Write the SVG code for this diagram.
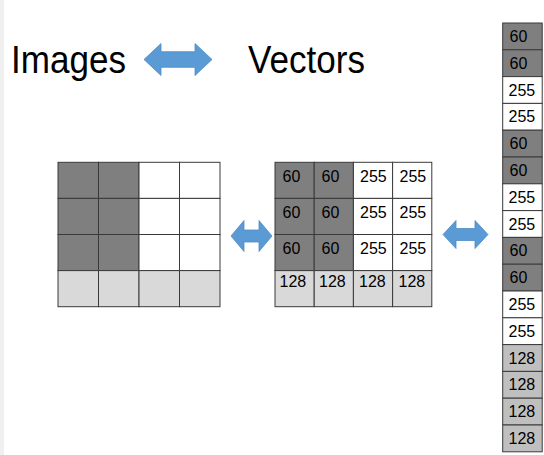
<svg xmlns="http://www.w3.org/2000/svg" width="544" height="455" viewBox="0 0 544 455">
<style>
.title{font-family:"Liberation Sans",Arial,sans-serif;font-size:38px;fill:#000}
.num{font-family:"Liberation Sans",Arial,sans-serif;font-size:16px;fill:#000}
.dk{fill:#7f7f7f;stroke:#3a3a3a;stroke-width:1}
.wh{fill:#ffffff;stroke:#3a3a3a;stroke-width:1}
.lt{fill:#d9d9d9;stroke:#3a3a3a;stroke-width:1}
.lt2{fill:#bfbfbf;stroke:#3a3a3a;stroke-width:1}
.arr{fill:#5b9bd5;stroke:#4f8cc4;stroke-width:0.8}
</style>
<rect x="0" y="0" width="544" height="455" fill="#ffffff"/>
<rect x="0" y="0" width="4" height="455" fill="#f0f0f0"/>
<g id="title-images"><text class="title" x="11" y="72.5" textLength="115" lengthAdjust="spacingAndGlyphs">Images</text></g>
<g id="title-vectors"><text class="title" x="248" y="72.5" textLength="117" lengthAdjust="spacingAndGlyphs">Vectors</text></g>
<g id="connectors">
<polygon class="arr" points="144,59.5 161,43.5 161,51.7 195,51.7 195,43.5 212,59.5 195,75.5 195,67.3 161,67.3 161,75.5"/>
<polygon class="arr" points="231,236 244,220.5 244,230 259,230 259,220.5 272,236 259,251.5 259,242 244,242 244,251.5"/>
<polygon class="arr" points="443,234.5 456,220.5 456,228.5 475,228.5 475,220.5 488,234.5 475,248.5 475,240.5 456,240.5 456,248.5"/>
</g>
<g id="image-grid">
<rect class="dk" x="58" y="162.3" width="40.5" height="36.1"/><rect class="dk" x="98.5" y="162.3" width="40.5" height="36.1"/><rect class="wh" x="139" y="162.3" width="40.5" height="36.1"/><rect class="wh" x="179.5" y="162.3" width="40.5" height="36.1"/>
<rect class="dk" x="58" y="198.4" width="40.5" height="36.1"/><rect class="dk" x="98.5" y="198.4" width="40.5" height="36.1"/><rect class="wh" x="139" y="198.4" width="40.5" height="36.1"/><rect class="wh" x="179.5" y="198.4" width="40.5" height="36.1"/>
<rect class="dk" x="58" y="234.5" width="40.5" height="36.1"/><rect class="dk" x="98.5" y="234.5" width="40.5" height="36.1"/><rect class="wh" x="139" y="234.5" width="40.5" height="36.1"/><rect class="wh" x="179.5" y="234.5" width="40.5" height="36.1"/>
<rect class="lt" x="58" y="270.6" width="40.5" height="36.1"/><rect class="lt" x="98.5" y="270.6" width="40.5" height="36.1"/><rect class="lt" x="139" y="270.6" width="40.5" height="36.1"/><rect class="lt" x="179.5" y="270.6" width="40.5" height="36.1"/>
</g>
<g id="value-grid">
<rect class="dk" x="275" y="162.3" width="39.2" height="36.1"/><rect class="dk" x="314.2" y="162.3" width="39.2" height="36.1"/><rect class="wh" x="353.4" y="162.3" width="39.2" height="36.1"/><rect class="wh" x="392.6" y="162.3" width="39.2" height="36.1"/>
<rect class="dk" x="275" y="198.4" width="39.2" height="36.1"/><rect class="dk" x="314.2" y="198.4" width="39.2" height="36.1"/><rect class="wh" x="353.4" y="198.4" width="39.2" height="36.1"/><rect class="wh" x="392.6" y="198.4" width="39.2" height="36.1"/>
<rect class="dk" x="275" y="234.5" width="39.2" height="36.1"/><rect class="dk" x="314.2" y="234.5" width="39.2" height="36.1"/><rect class="wh" x="353.4" y="234.5" width="39.2" height="36.1"/><rect class="wh" x="392.6" y="234.5" width="39.2" height="36.1"/>
<rect class="lt" x="275" y="270.6" width="39.2" height="36.1"/><rect class="lt" x="314.2" y="270.6" width="39.2" height="36.1"/><rect class="lt" x="353.4" y="270.6" width="39.2" height="36.1"/><rect class="lt" x="392.6" y="270.6" width="39.2" height="36.1"/>
<text class="num" x="282.5" y="182">60</text><text class="num" x="321.5" y="182">60</text><text class="num" x="360" y="182">255</text><text class="num" x="399.5" y="182">255</text>
<text class="num" x="282.5" y="218.3">60</text><text class="num" x="321.5" y="218.3">60</text><text class="num" x="360" y="218.3">255</text><text class="num" x="399.5" y="218.3">255</text>
<text class="num" x="282.5" y="254.3">60</text><text class="num" x="321.5" y="254.3">60</text><text class="num" x="360" y="254.3">255</text><text class="num" x="399.5" y="254.3">255</text>
<text class="num" x="279.5" y="287">128</text><text class="num" x="319" y="287">128</text><text class="num" x="359" y="287">128</text><text class="num" x="398.5" y="287">128</text>
</g>
<g id="vector-column">
<rect class="dk" x="502.7" y="23" width="39.5" height="26.8"/>
<rect class="dk" x="502.7" y="49.8" width="39.5" height="26.8"/>
<rect class="wh" x="502.7" y="76.6" width="39.5" height="26.8"/>
<rect class="wh" x="502.7" y="103.4" width="39.5" height="26.8"/>
<rect class="dk" x="502.7" y="130.2" width="39.5" height="26.8"/>
<rect class="dk" x="502.7" y="157" width="39.5" height="26.8"/>
<rect class="wh" x="502.7" y="183.8" width="39.5" height="26.8"/>
<rect class="wh" x="502.7" y="210.6" width="39.5" height="26.8"/>
<rect class="dk" x="502.7" y="237.4" width="39.5" height="26.8"/>
<rect class="dk" x="502.7" y="264.2" width="39.5" height="26.8"/>
<rect class="wh" x="502.7" y="291" width="39.5" height="26.8"/>
<rect class="wh" x="502.7" y="317.8" width="39.5" height="26.8"/>
<rect class="lt2" x="502.7" y="344.6" width="39.5" height="26.8"/>
<rect class="lt2" x="502.7" y="371.4" width="39.5" height="26.8"/>
<rect class="lt2" x="502.7" y="398.2" width="39.5" height="26.8"/>
<rect class="lt2" x="502.7" y="425" width="39.5" height="26.8"/>
<text class="num" x="509.5" y="42">60</text>
<text class="num" x="509.5" y="68.8">60</text>
<text class="num" x="508.5" y="95.6">255</text>
<text class="num" x="508.5" y="122.4">255</text>
<text class="num" x="509.5" y="149.2">60</text>
<text class="num" x="509.5" y="176">60</text>
<text class="num" x="508.5" y="202.8">255</text>
<text class="num" x="508.5" y="229.6">255</text>
<text class="num" x="509.5" y="256.4">60</text>
<text class="num" x="509.5" y="283.2">60</text>
<text class="num" x="508.5" y="310">255</text>
<text class="num" x="508.5" y="336.8">255</text>
<text class="num" x="508.5" y="363.6">128</text>
<text class="num" x="508.5" y="390.4">128</text>
<text class="num" x="508.5" y="417.2">128</text>
<text class="num" x="508.5" y="444">128</text>
</g>
</svg>
